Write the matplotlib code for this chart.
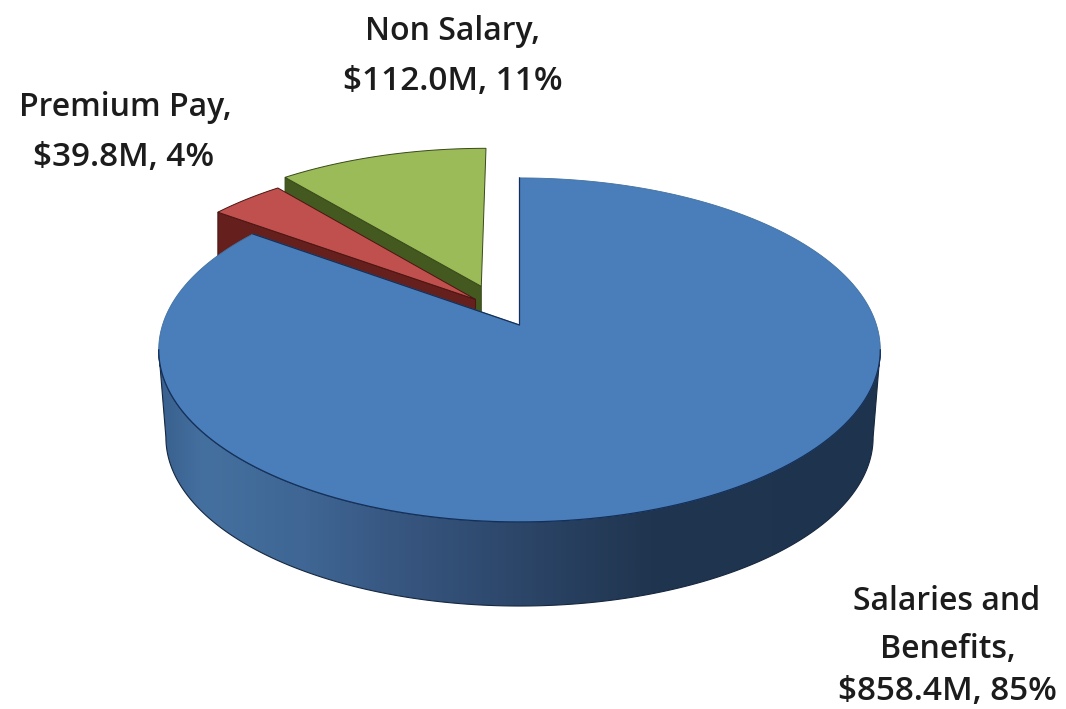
import numpy as np
import matplotlib
matplotlib.use("Agg")
import matplotlib.pyplot as plt
from matplotlib.colors import LinearSegmentedColormap
from matplotlib.patches import Polygon

categories = ["Salaries and Benefits", "Premium Pay", "Non Salary"]
values = [858.4, 39.8, 112.0]
percents = [85, 4, 11]

top_colors = ["#4a7ebb", "#c0504d", "#9bbb59"]
side_colors = [None, "#651f1d", "#44591f"]
edge_colors = ["#17365d", "#4a1513", "#39491a"]
explode = [0.0, 0.20, 0.262]
explode_dir = [0.0, 321.0, 335.0]

# Perspective model of the pie disc, in pixel coordinates
CX, CY = 519.5, 325.0
RX, RY = 357.0, 168.4
PERSP = 0.145
BASE_DROP = 88.0
BASE_SCALE = 0.98
WEDGE_DROP = 60.0


def project(theta, radius=1.0, du=0.0, dv=0.0, scale=1.0, drop=0.0):
    """Map a clockwise-from-top disc angle (degrees) onto the page."""
    t = np.radians(theta)
    u = radius * np.sin(t) + du
    v = radius * np.cos(t) + dv
    w = 1 + PERSP * v
    return CX + scale * RX * u / w, CY + drop - scale * RY * v / w


fig = plt.figure(figsize=(10.66, 7.09), dpi=100, facecolor="white")
ax = fig.add_axes([0, 0, 1, 1])
ax.set_xlim(0, 1066)
ax.set_ylim(709, 0)
ax.axis("off")

sweeps = 360 * np.array(values) / sum(values)
starts = np.concatenate([[0], np.cumsum(sweeps)[:-1]])


def wedge_outline(i):
    off = np.radians(explode_dir[i])
    du, dv = explode[i] * np.sin(off), explode[i] * np.cos(off)
    arc = np.linspace(starts[i], starts[i] + sweeps[i], 240)
    ax_, ay_ = project(arc, du=du, dv=dv)
    ox, oy = project(0.0, radius=0.0, du=du, dv=dv)
    return np.r_[ox, ax_], np.r_[oy, ay_], (ox, oy), (ax_[0], ay_[0]), (ax_[-1], ay_[-1])


# Exploded slices, back to front: inner wall first, then the top face
for i in (2, 1):
    xs, ys, apex, first, last = wedge_outline(i)
    wall = [apex, first, (first[0], first[1] + WEDGE_DROP), (apex[0], apex[1] + WEDGE_DROP)]
    ax.add_patch(Polygon(wall, closed=True, fc=side_colors[i], ec=edge_colors[i], lw=0.7, zorder=2 + (2 - i) * 2))
    ax.add_patch(Polygon(np.c_[xs, ys], closed=True, fc=top_colors[i], ec=edge_colors[i], lw=0.7, zorder=3 + (2 - i) * 2))

# Rim of the large slice, shaded from left to right
rim_angles = np.linspace(98.3, 261.7, 300)
tx, ty = project(rim_angles)
bx, by = project(rim_angles, scale=BASE_SCALE, drop=BASE_DROP)
rim_xy = np.r_[np.c_[tx, ty], np.c_[bx, by][::-1]]
rim = Polygon(rim_xy, closed=True, fc="none", ec="#16273f", lw=0.8, zorder=7)
ax.add_patch(rim)
stops = [(0.0, "#3a6190"), (0.06, "#44709f"), (0.2, "#3f6694"), (0.33, "#375680"),
         (0.5, "#2c4669"), (0.68, "#20354f"), (0.85, "#1f344e"), (1.0, "#1e344f")]
shade = LinearSegmentedColormap.from_list("rim", stops)
img = ax.imshow(np.linspace(0, 1, 512)[None, :], cmap=shade, aspect="auto",
                extent=(160, 882, 720, 300), zorder=6)
img.set_clip_path(rim)
ax.set_xlim(0, 1066)
ax.set_ylim(709, 0)

# Top face of the large slice: soft line along the back, dark along the front and cut edges
xs, ys, apex0, first0, last0 = wedge_outline(0)
ax.add_patch(Polygon(np.c_[xs, ys], closed=True, fc=top_colors[0], ec="#41709f", lw=0.6, zorder=8))
front = np.linspace(98.3, 261.7, 300)
fx, fy = project(front)
ax.plot(fx, fy, color="#14305a", lw=0.9, zorder=9)
ax.plot([last0[0], apex0[0], first0[0]], [last0[1], apex0[1], first0[1]], color="#14305a", lw=0.9, zorder=9)

# Data labels, one line at a time
money = [f"${v:.1f}M, {p}%" for v, p in zip(values, percents)]
label_lines = [
    ("Salaries and", 947, 602, 23), ("Benefits,", 948, 650, 23), (money[0], 947, 692, 24),
    (categories[1] + ",", 125, 107, 23), (money[1], 124, 157, 24),
    (categories[2] + ",", 452, 31, 23), (money[2], 453, 81, 24),
]
for line, x, y, size in label_lines:
    ax.text(x, y, line, ha="center", va="center", family="Open Sans", weight=600,
            fontsize=size, color="#1c1c1c", zorder=10)

fig.savefig("out.png", dpi=100, facecolor="white")
